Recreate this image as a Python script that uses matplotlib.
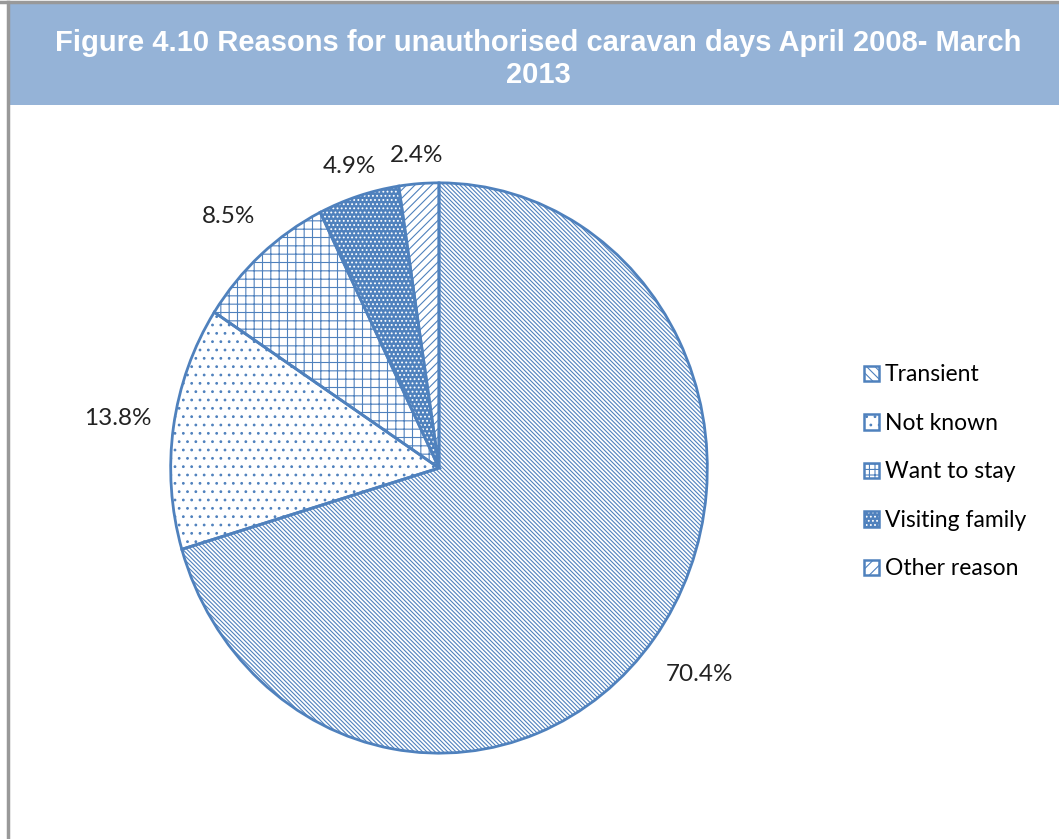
import numpy as np
import matplotlib.pyplot as plt
from matplotlib.patches import Rectangle, Patch, Wedge
from matplotlib.lines import Line2D

reasons = ["Transient", "Not known", "Want to stay", "Visiting family", "Other reason"]
shares = [70.4, 13.8, 8.5, 4.9, 2.4]
share_labels = ["70.4%", "13.8%", "8.5%", "4.9%", "2.4%"]
label_dist = [1.21, 1.21, 1.18, 1.11, 1.1]

blue = "#4F81BD"
hatches = ["\\" * 8, "..", "++", "....", "////"]
legend_hatches = ["\\\\\\\\", "..", "+++", "....", "///"]
faces = ["white", "white", "white", blue, "white"]
hcols = [blue, blue, blue, "white", blue]

plt.rcParams["hatch.linewidth"] = 0.8
fig = plt.figure(figsize=(10.59, 8.39), dpi=100)
W, H = 1059, 839

# title banner and page border
fig.patches.append(Rectangle((9 / W, 1 - 105 / H), 1, 101 / H,
                             transform=fig.transFigure, facecolor="#95B3D7",
                             edgecolor="none"))
fig.add_artist(Line2D([0, 1], [1 - 2 / H, 1 - 2 / H], transform=fig.transFigure,
                      color="#999999", linewidth=2.5))
fig.add_artist(Line2D([7.5 / W, 7.5 / W], [0, 1 - 2 / H], transform=fig.transFigure,
                      color="#999999", linewidth=2.5))
fig.text(538 / W, 1 - 59 / H,
         "Figure 4.10 Reasons for unauthorised caravan days April 2008- March\n2013",
         ha="center", va="center", color="white", fontsize=21, fontweight="bold",
         family="Liberation Sans", linespacing=1.15)

cx, cy, rx, ry = 439, 468, 271, 288
ax = fig.add_axes([(cx - rx) / W, (H - cy - ry) / H, 2 * rx / W, 2 * ry / H])
wedges, _ = ax.pie(shares, startangle=90, counterclock=False, radius=1,
                   wedgeprops=dict(linewidth=0))
for w, h, fc, hc in zip(wedges, hatches, faces, hcols):
    w.set_facecolor(fc)
    w.set_edgecolor(hc)
    w.set_hatch(h)
    # slice outline in the series colour
    ax.add_patch(Wedge(w.center, w.r, w.theta1, w.theta2,
                       fill=False, edgecolor=blue, linewidth=2))
ax.set_aspect("auto")
ax.set_xlim(-1.01, 1.01)
ax.set_ylim(-1.01, 1.01)

for w, txt, d in zip(wedges, share_labels, label_dist):
    mid = np.deg2rad((w.theta1 + w.theta2) / 2)
    ax.text(d * np.cos(mid), d * np.sin(mid), txt, ha="center", va="center",
            fontsize=17.5, family="Lato", color="#222222")

handles = []
for fc, hc, h in zip(faces, hcols, legend_hatches):
    # hatched fill, then a blue square border over it
    handles.append((Patch(facecolor=fc, edgecolor=hc, hatch=h, linewidth=0),
                    Patch(facecolor="none", edgecolor=blue, linewidth=1.8)))
fig.legend(handles, reasons, loc="upper left", bbox_to_anchor=(853 / W, 1 - 353 / H),
           frameon=False, prop=dict(family="Lato", size=16.5), handlelength=0.65,
           handleheight=0.65, handletextpad=0.25, labelspacing=1.2, borderpad=0)

fig.savefig("out.png", dpi=100)
